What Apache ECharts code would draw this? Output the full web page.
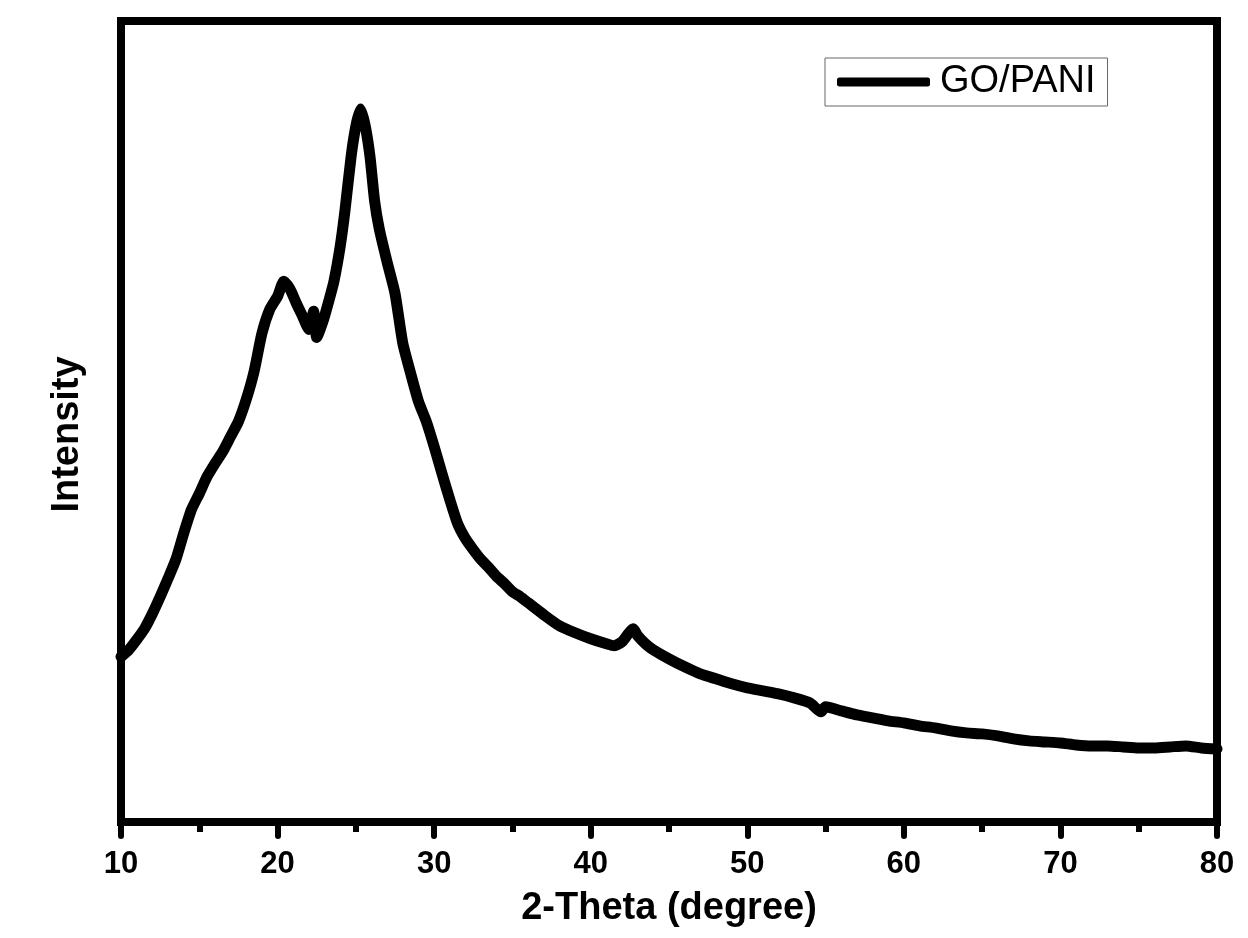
<!DOCTYPE html>
<html>
<head>
<meta charset="utf-8">
<script src="https://cdn.jsdelivr.net/npm/echarts@6/dist/echarts.min.js"></script>
<style>
html,body{margin:0;padding:0;background:#fff;}
#chart{width:1248px;height:938px;}
</style>
</head>
<body>
<div id="chart"></div>
<script>
const seriesName = 'GO/PANI';
const twoTheta = [10.0,10.5,11.0,11.5,12.0,12.5,13.0,13.5,14.0,14.5,15.0,15.5,16.0,16.5,17.0,17.5,18.0,18.5,19.0,19.5,20.0,20.4,20.8,21.2,21.6,22.0,22.3,22.5,22.9,23.3,23.6,24.0,24.3,24.7,25.0,25.3,25.6,25.9,26.2,26.5,27.0,27.5,28.0,28.5,29.0,29.5,30.0,30.5,31.0,31.5,32.0,32.5,33.0,33.5,34.0,34.5,35.0,35.5,36.0,37.0,38.0,39.0,40.0,41.0,41.5,42.0,42.4,42.7,43.0,43.5,44.0,45.0,46.0,47.0,48.0,49.0,50.0,51.0,52.0,53.0,54.0,54.7,55.0,56.0,57.0,58.0,59.0,60.0,61.0,62.0,63.0,64.0,65.0,66.0,67.0,68.0,69.0,70.0,71.0,72.0,73.0,74.0,75.0,76.0,77.0,78.0,79.0,80.0];
const intensity = [165,172,182,193,208,225,243,262,288,312,328,345,358,370,385,400,422,450,488,512,525,540,532,518,505,492,510,484,500,522,540,575,610,665,695,712,695,665,620,592,559,528,478,448,420,400,375,348,322,298,283,272,262,254,245,238,230,225,219,207,196,189,183,178,176,180,188,193,186,178,172,163,155,148,143,138,134,131,128,124,119,110,115,111,107,104,101,99,96,94,91,89,88,86,83,81,80,79,77,76,76,75,74,74,75,76,74,73];
const xTicks = [10,20,30,40,50,60,70,80];

const data = twoTheta.map((x,i)=>[x,intensity[i]]);
const chart = echarts.init(document.getElementById('chart'));
const FONT = '"Liberation Sans", Arial, sans-serif';
chart.setOption({
  backgroundColor:'#fff',
  animation:false,
  grid:{left:121,right:31,top:21,bottom:116,show:true,borderColor:'#000',borderWidth:8,backgroundColor:'transparent'},
  legend:{
    left:825, top:58,
    padding:[5,12,5,12],
    borderColor:'#666', borderWidth:1,
    icon:'roundRect', itemWidth:93, itemHeight:9,
    textStyle:{fontFamily:FONT,fontSize:38,color:'#000',padding:[0,0,0,5]},
    data:[seriesName]
  },
  xAxis:{
    type:'value', min:10, max:80, interval:10,
    axisLine:{show:true,lineStyle:{color:'#000',width:8}},
    axisTick:{show:true,inside:false,length:14,lineStyle:{color:'#000',width:6,cap:'round'}},
    minorTick:{show:true,splitNumber:2,length:10,lineStyle:{color:'#000',width:6}},
    splitLine:{show:false},
    axisLabel:{margin:27,fontFamily:FONT,fontWeight:'bold',fontSize:31,color:'#000',
      formatter:v=>xTicks.includes(v)?String(v):''},
    name:'2-Theta (degree)', nameLocation:'middle', nameGap:68,
    nameTextStyle:{fontFamily:FONT,fontWeight:'bold',fontSize:38,color:'#000'}
  },
  yAxis:{
    type:'value', min:0, max:800,
    axisLine:{show:true,lineStyle:{color:'#000',width:8}},
    axisTick:{show:false}, axisLabel:{show:false}, splitLine:{show:false},
    name:'Intensity', nameLocation:'middle', nameGap:34,
    nameTextStyle:{fontFamily:FONT,fontWeight:'bold',fontSize:38,color:'#000',padding:[0,26,0,0]}
  },
  series:[{
    name:seriesName, type:'line', data:data, showSymbol:false, symbol:'none',
    smooth:0.2,
    lineStyle:{color:'#000',width:11,join:'round',cap:'round'},
    itemStyle:{color:'#000'}
  }]
});
</script>
</body>
</html>
